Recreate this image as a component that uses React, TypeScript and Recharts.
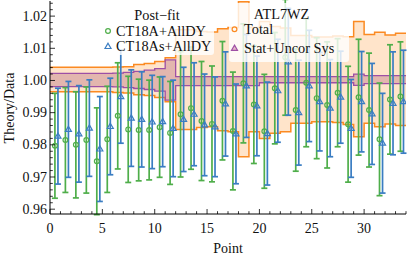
import React from 'react';
import { ComposedChart, Area, Scatter, ErrorBar, XAxis, YAxis } from 'recharts';

const points = [0,1,2,3,4,5,6,7,8,9,10,11,12,13,14,15,16,17,18,19,20,21,22,23,24,25,26,27,28,29,30,31,32,33];

const ct18a = [0.9797,0.9815,0.9800,0.9815,0.9749,0.9817,0.9890,0.9848,0.9846,0.9846,0.9855,0.9837,0.9895,0.9914,0.9874,0.9865,0.9937,0.9843,0.9991,0.9925,0.9842,0.9976,1.0072,0.9908,0.9993,0.9945,0.9924,0.9962,0.9864,0.9948,0.9908,0.9817,0.9941,0.9950];
const ct18aErr = [0.0163,0.0163,0.0165,0.0165,0.0166,0.0165,0.0165,0.0165,0.0158,0.0155,0.0156,0.0160,0.0195,0.0190,0.0185,0.0180,0.0184,0.0183,0.0185,0.0183,0.0177,0.0173,0.0180,0.0190,0.0199,0.0188,0.0196,0.0168,0.0180,0.0180,0.0177,0.0175,0.0170,0.0170];
const ct18as = [0.9827,0.9848,0.9834,0.9852,0.9787,0.9857,0.9950,0.9883,0.9879,0.9871,0.9872,0.9851,0.9879,0.9895,0.9862,0.9856,0.9927,0.9834,0.9983,0.9921,0.9835,0.9968,1.0058,0.9900,0.9983,0.9934,0.9914,0.9948,0.9851,0.9934,0.9896,0.9805,0.9929,0.9934];
const ct18asErr = [0.0149,0.0149,0.0150,0.0150,0.0163,0.0150,0.0145,0.0150,0.0148,0.0145,0.0140,0.0150,0.0162,0.0160,0.0158,0.0155,0.0162,0.0155,0.0160,0.0155,0.0160,0.0160,0.0166,0.0163,0.0173,0.0153,0.0151,0.0143,0.0152,0.0156,0.0157,0.0155,0.0160,0.0160];

const totalLow = [0.9965,0.9965,0.9965,0.9965,0.9965,0.9965,0.9963,0.9961,0.9956,0.9953,0.9947,0.9934,0.9848,0.9848,0.9854,0.9856,0.9844,0.9841,0.9763,0.9841,0.9820,0.9836,0.9841,0.9867,0.9867,0.9872,0.9872,0.9869,0.9863,0.9825,0.9867,0.9856,0.9865,0.9860];
const totalHigh = [1.0041,1.0041,1.0041,1.0041,1.0041,1.0041,1.0042,1.0043,1.0050,1.0053,1.0059,1.0071,1.0158,1.0158,1.0152,1.0151,1.0161,1.0165,1.0245,1.0165,1.0183,1.0168,1.0163,1.0140,1.0140,1.0135,1.0135,1.0138,1.0136,1.0183,1.0143,1.0150,1.0141,1.0147];
const statLow = [0.9981,0.9981,0.9981,0.9981,0.9981,0.9981,0.9980,0.9978,0.9975,0.9972,0.9967,0.9939,0.9984,0.9984,0.9984,0.9984,0.9984,0.9984,0.9984,0.9984,0.9993,0.9993,0.9993,0.9993,0.9993,0.9993,0.9993,0.9993,0.9993,0.9985,0.9990,0.9990,0.9990,0.9990];
const statHigh = [1.0022,1.0022,1.0022,1.0022,1.0022,1.0022,1.0023,1.0025,1.0028,1.0032,1.0037,1.0064,1.0012,1.0012,1.0012,1.0012,1.0012,1.0012,1.0012,1.0012,1.0012,1.0012,1.0012,1.0012,1.0012,1.0012,1.0012,1.0012,1.0012,1.0020,1.0015,1.0015,1.0015,1.0015];

const xTicks = [0,1,2,3,4,5,6,7,8,9,10,11,12,13,14,15,16,17,18,19,20,21,22,23,24,25,26,27,28,29,30,31,32,33,34];
const xMajorTicks = [0,5,10,15,20,25,30];
const yTicks = [0.96,0.962,0.964,0.966,0.968,0.97,0.972,0.974,0.976,0.978,0.98,0.982,0.984,0.986,0.988,0.99,0.992,0.994,0.996,0.998,1.0,1.002,1.004,1.006,1.008,1.01,1.012,1.014,1.016,1.018,1.02,1.022,1.024];
const yMajorTicks = [0.96,0.97,0.98,0.99,1.0,1.01,1.02];

const X_DOMAIN: [number, number] = [0, 34];
const Y_DOMAIN: [number, number] = [0.9585, 1.0247];

const GREEN = '#4fae4a';
const BLUE = '#3a7dc2';
const ORANGE = '#fb8a22';
const PURPLE = '#9e4fa5';
const FONT = '"Liberation Serif", "Times New Roman", serif';
const GREEN_DX = 0.47;
const BLUE_DX = 0.76;
const M = 4;

const greenData = points.map((p, i) => ({ x: p + GREEN_DX, y: ct18a[i], err: ct18aErr[i] }));
const blueData = points.map((p, i) => ({ x: p + BLUE_DX, y: ct18as[i], err: ct18asErr[i] }));
const bandData = xTicks.map((e) => {
  const i = Math.min(e, points.length - 1);
  return { x: e, total: [totalLow[i], totalHigh[i]], stat: [statLow[i], statHigh[i]] };
});

const isMajorX = (v: number) => xMajorTicks.indexOf(v) >= 0;
const isMajorY = (v: number) => yMajorTicks.some((m) => Math.abs(m - v) < 1e-7);

const BottomTick = (props: any) => {
  const { x, y, payload } = props;
  const v = payload.value;
  const maj = isMajorX(v);
  const y0 = y - M;
  return (
    <g>
      <line x1={x} x2={x} y1={y0} y2={y0 - (maj ? 5 : 2.8)} stroke="#000" strokeWidth={0.8} />
      {maj && (
        <text x={x} y={y0 + 19} textAnchor="middle" fontFamily={FONT} fontSize={14} fill="#111">
          {v}
        </text>
      )}
    </g>
  );
};
const TopTick = (props: any) => {
  const { x, y, payload } = props;
  const maj = isMajorX(payload.value);
  const y0 = y + M;
  return <line x1={x} x2={x} y1={y0} y2={y0 + (maj ? 5 : 2.8)} stroke="#000" strokeWidth={0.8} />;
};
const LeftTick = (props: any) => {
  const { x, y, payload } = props;
  const v = payload.value;
  const maj = isMajorY(v);
  const x0 = x + M;
  return (
    <g>
      <line x1={x0} x2={x0 + (maj ? 5 : 2.8)} y1={y} y2={y} stroke="#000" strokeWidth={0.8} />
      {maj && (
        <text x={x0 - 3} y={y + 4.6} textAnchor="end" fontFamily={FONT} fontSize={14} fill="#111">
          {v.toFixed(2)}
        </text>
      )}
    </g>
  );
};
const RightTick = (props: any) => {
  const { x, y, payload } = props;
  const maj = isMajorY(payload.value);
  const x0 = x - M;
  return <line x1={x0} x2={x0 - (maj ? 5 : 2.8)} y1={y} y2={y} stroke="#000" strokeWidth={0.8} />;
};

const NoShape = () => <g />;
const CircleShape = (p: any) => (
  <circle cx={p.cx} cy={p.cy} r={2.4} fill="none" stroke={GREEN} strokeWidth={1.2} />
);
const TriShape = (p: any) => (
  <path
    d={`M${p.cx},${p.cy - 3.2} L${p.cx + 3},${p.cy + 2} L${p.cx - 3},${p.cy + 2} Z`}
    fill="none"
    stroke={BLUE}
    strokeWidth={1.2}
  />
);

const axisLine = { stroke: '#000', strokeWidth: 1 };

export default function App() {
  return (
    <div style={{ position: 'absolute', left: 0, top: 0, width: 407, height: 260 }}>
      <ComposedChart
        width={407}
        height={260}
        data={bandData}
        margin={{ top: 1, right: 1, bottom: 0, left: 0 }}
      >
        <XAxis
          xAxisId="b"
          dataKey="x"
          type="number"
          domain={X_DOMAIN}
          allowDataOverflow
          ticks={xTicks}
          interval={0}
          tickSize={0}
          tickMargin={M}
          tickLine={false}
          axisLine={axisLine}
          tick={<BottomTick />}
          height={46}
          orientation="bottom"
        />
        <XAxis
          xAxisId="t"
          dataKey="x"
          type="number"
          domain={X_DOMAIN}
          allowDataOverflow
          ticks={xTicks}
          interval={0}
          tickSize={0}
          tickMargin={M}
          tickLine={false}
          axisLine={axisLine}
          tick={<TopTick />}
          height={0}
          orientation="top"
        />
        <YAxis
          yAxisId="l"
          type="number"
          domain={Y_DOMAIN}
          allowDataOverflow
          ticks={yTicks}
          interval={0}
          tickSize={0}
          tickMargin={M}
          tickLine={false}
          axisLine={axisLine}
          tick={<LeftTick />}
          width={50}
          orientation="left"
        />
        <YAxis
          yAxisId="r"
          type="number"
          domain={Y_DOMAIN}
          allowDataOverflow
          ticks={yTicks}
          interval={0}
          tickSize={0}
          tickMargin={M}
          tickLine={false}
          axisLine={axisLine}
          tick={<RightTick />}
          width={0}
          orientation="right"
        />

        <Scatter xAxisId="b" yAxisId="l" data={greenData} dataKey="y" shape={NoShape} isAnimationActive={false}>
          <ErrorBar dataKey="err" direction="y" width={3} stroke={GREEN} strokeWidth={1.7} isAnimationActive={false} />
        </Scatter>
        <Scatter xAxisId="b" yAxisId="l" data={blueData} dataKey="y" shape={NoShape} isAnimationActive={false}>
          <ErrorBar dataKey="err" direction="y" width={3} stroke={BLUE} strokeWidth={1.7} isAnimationActive={false} />
        </Scatter>

        <Area
          xAxisId="t"
          yAxisId="r"
          dataKey="total"
          type="stepAfter"
          stroke={ORANGE}
          strokeWidth={1.5}
          fill="#ffbf80"
          fillOpacity={0.42}
          dot={false}
          activeDot={false}
          isAnimationActive={false}
        />
        <Area
          xAxisId="t"
          yAxisId="r"
          dataKey="stat"
          type="stepAfter"
          stroke={PURPLE}
          strokeWidth={1.3}
          fill="#b0607a"
          fillOpacity={0.35}
          dot={false}
          activeDot={false}
          isAnimationActive={false}
        />

        <Scatter xAxisId="b" yAxisId="l" data={greenData} dataKey="y" shape={CircleShape} isAnimationActive={false} />
        <Scatter xAxisId="b" yAxisId="l" data={blueData} dataKey="y" shape={TriShape} isAnimationActive={false} />
      </ComposedChart>

      <svg width={407} height={260} style={{ position: 'absolute', left: 0, top: 0, pointerEvents: 'none' }}>
        <rect x={103} y={3} width={111} height={52} rx={3} fill="#fff" fillOpacity={0.8} />
        <rect x={229} y={3} width={120} height={59} rx={3} fill="#fff" fillOpacity={0.8} />
        <g fontFamily={FONT} fontSize={14.3} fill="#111">
          <text x={157} y={20} textAnchor="middle">Post−fit</text>
          <text x={116} y={35.5}>CT18A+AllDY</text>
          <text x={116} y={51}>CT18As+AllDY</text>
          <text x={281.5} y={19} textAnchor="middle">ATL7WZ</text>
          <text x={244} y={34}>Total</text>
          <text x={244} y={53}>Stat+Uncor Sys</text>
          <text x={228} y={253} textAnchor="middle" fontSize={14}>Point</text>
          <text x={0} y={0} textAnchor="middle" fontSize={14} transform="translate(14,108) rotate(-90)">Theory/Data</text>
        </g>
        <circle cx={108} cy={31} r={2.4} fill="none" stroke={GREEN} strokeWidth={1.2} />
        <path d="M108,43.3 L111,48.5 L105,48.5 Z" fill="none" stroke={BLUE} strokeWidth={1.2} />
        <circle cx={234.5} cy={29.3} r={2.4} fill="none" stroke={ORANGE} strokeWidth={1.2} />
        <path d="M234.5,45.1 L237.5,50.3 L231.5,50.3 Z" fill="#e6b8c8" stroke={PURPLE} strokeWidth={1.2} />
      </svg>
    </div>
  );
}
